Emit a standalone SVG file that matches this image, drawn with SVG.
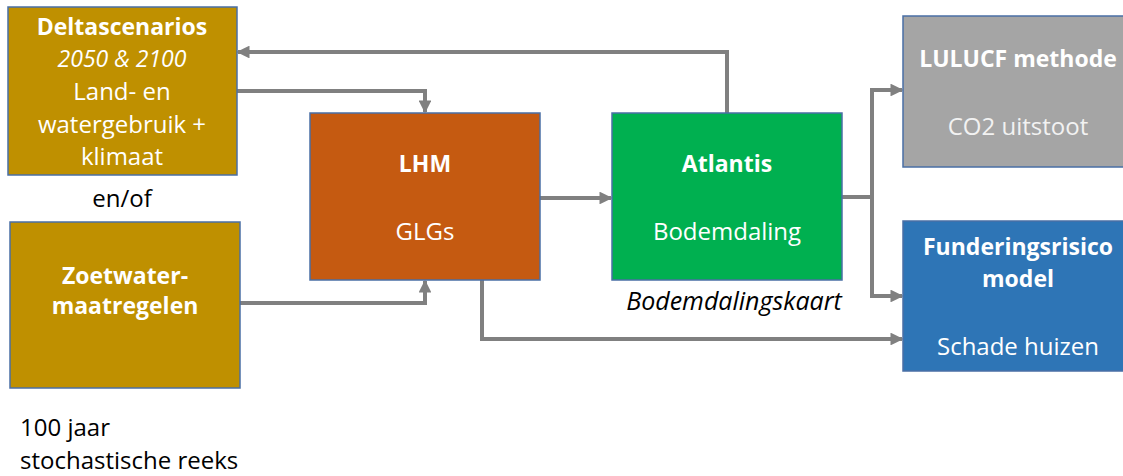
<svg xmlns="http://www.w3.org/2000/svg" width="1123" height="476" viewBox="0 0 1123 476">
<style>
.box{stroke:#4a6fa5;stroke-width:1.5}
.t{font-family:"Open Sans","Liberation Sans",Arial,sans-serif;font-size:24px;fill:#ffffff;text-anchor:middle}
.b{font-weight:bold;font-size:23px}
.i{font-style:italic;font-size:23px}
.ik{font-style:italic;font-size:25px}
.k{fill:#000000}
.s{text-anchor:start}
.c{fill:none;stroke:#808080;stroke-width:4}
</style>
<defs>
<marker id="ah" viewBox="0 0 10 10" refX="9" refY="5" markerWidth="3.2" markerHeight="3.2" orient="auto" markerUnits="strokeWidth">
<path d="M0,0 L10,5 L0,10 Z" fill="#808080"/>
</marker>
</defs>
<rect width="1123" height="476" fill="#ffffff"/>
<g id="connectors">
<path class="c" d="M727,113 V52 H238" marker-end="url(#ah)"/>
<path class="c" d="M237,91 H425 V112" marker-end="url(#ah)"/>
<path class="c" d="M240,303 H425 V281" marker-end="url(#ah)"/>
<path class="c" d="M540,198 H611" marker-end="url(#ah)"/>
<path class="c" d="M482,280 V339 H902" marker-end="url(#ah)"/>
<path class="c" d="M842,197 H872"/>
<path class="c" d="M872,90 V296"/>
<path class="c" d="M870,90 H902" marker-end="url(#ah)"/>
<path class="c" d="M870,296 H902" marker-end="url(#ah)"/>
</g>
<g id="deltascenarios">
<rect class="box" x="8" y="7" width="229" height="168" fill="#BF9000"/>
<text class="t b" x="122" y="35">Deltascenarios</text>
<text class="t i" x="122" y="67">2050 &amp; 2100</text>
<text class="t" x="122" y="100">Land- en</text>
<text class="t" x="122" y="133">watergebruik +</text>
<text class="t" x="122" y="165">klimaat</text>
</g>
<g id="enof">
<text class="t k" x="122" y="207">en/of</text>
</g>
<g id="zoetwater">
<rect class="box" x="10" y="222" width="230" height="166" fill="#BF9000"/>
<text class="t b" x="125" y="284">Zoetwater-</text>
<text class="t b" x="125" y="314">maatregelen</text>
</g>
<g id="reeks">
<text class="t k s" x="20" y="436">100 jaar</text>
<text class="t k s" x="20" y="469">stochastische reeks</text>
</g>
<g id="lhm">
<rect class="box" x="310" y="113" width="230" height="167" fill="#C55A11"/>
<text class="t b" x="425" y="172">LHM</text>
<text class="t" x="425" y="240">GLGs</text>
</g>
<g id="atlantis">
<rect class="box" x="612" y="113" width="230" height="167" fill="#00B050"/>
<text class="t b" x="727" y="172">Atlantis</text>
<text class="t" x="727" y="240">Bodemdaling</text>
<text class="t ik k" x="734" y="310">Bodemdalingskaart</text>
</g>
<g id="lulucf">
<rect class="box" x="903" y="16" width="232" height="151" fill="#A5A5A5"/>
<text class="t b" x="1018" y="67">LULUCF methode</text>
<text class="t" x="1018" y="135" style="fill:#f2f2f2">CO2 uitstoot</text>
</g>
<g id="funderingsrisico">
<rect class="box" x="903" y="221" width="232" height="150" fill="#2E75B6"/>
<text class="t b" x="1018" y="255">Funderingsrisico</text>
<text class="t b" x="1018" y="287">model</text>
<text class="t" x="1018" y="355">Schade huizen</text>
</g>
</svg>
